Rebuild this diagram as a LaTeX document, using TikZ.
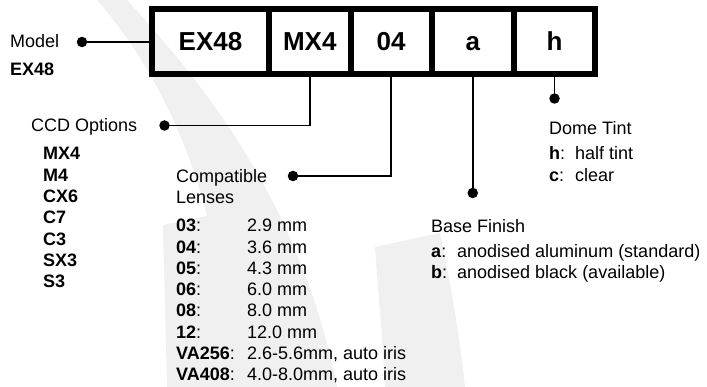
\documentclass[tikz,border=0pt]{standalone}
\usepackage{fontspec}
\setmainfont{Liberation Sans}
\begin{document}
\begin{tikzpicture}[x=1pt,y=-1pt,
  cell/.style={draw, line width=6pt, inner sep=0pt, outer sep=3pt, minimum height=65pt,
    text height=19pt, text depth=0pt,
    font=\fontsize{26}{30}\selectfont\bfseries},
  conn/.style={line width=1.6pt},
  dot/.style={circle, fill=black, inner sep=0pt, minimum size=10.5pt},
  txt/.style={anchor=base west, inner sep=0pt, font=\fontsize{18}{21}\selectfont},
  wm/.style={fill=black!6, draw=none}]
\useasboundingbox (0,0) rectangle (707,387);
% watermark
\fill[wm] (97,0) -- (127,0) .. controls (200,80) and (300,200) .. (337,387)
  -- (167,387) -- (163,225) -- (207,216) .. controls (188,140) and (150,60) .. (97,0) -- cycle;
\fill[wm] (375,247) -- (440,233) .. controls (452,290) and (460,340) .. (465,387)
  -- (385,387) .. controls (382,330) and (378,290) .. (375,247) -- cycle;
% code boxes
\node[cell, minimum width=117pt]  (c1) at (210.5,41.5)  {EX48};
\node[cell, minimum width=81.5pt] (c2) at (309.75,41.5) {MX4};
\node[cell, minimum width=81pt]   (c3) at (391,41.5)    {04};
\node[cell, minimum width=82.5pt] (c4) at (472.75,41.5) {a};
\node[cell, minimum width=81pt]   (c5) at (554.5,41.5)  {h};
% dots
\node[dot] (dm)    at (82,42)       {};
\node[dot] (dccd)  at (164.5,125.5) {};
\node[dot] (dlens) at (293,176)     {};
\node[dot] (dbase) at (472.75,193)  {};
\node[dot] (ddome) at (554.5,98.5)  {};
% connectors
\draw[conn] (dm) -- (dm -| c1.west);
\draw[conn] (dccd) -| (c2.south);
\draw[conn] (dlens) -| (c3.south);
\draw[conn] (dbase) -- (c4.south);
\draw[conn] (ddome) -- (c5.south);
% model
\node[txt] (tmodel) at (10,48) {Model};
\node[txt] (tmodelv) at (10,76) {\bfseries EX48};
% CCD
\node[txt] (tccd) at (31,132) {CCD Options};
\foreach \t [count=\i from 0] in {MX4,M4,CX6,C7,C3,SX3,S3}
  \node[txt] (ccd\i) at (43,160+21.3*\i) {\bfseries \t};
% lenses
\node[txt] (tlens1) at (176,183) {Compatible};
\node[txt] (tlens2) at (176,204) {Lenses};
\foreach \k/\v [count=\i from 0] in {03/2.9 mm,04/3.6 mm,05/4.3 mm,06/6.0 mm,08/8.0 mm,12/12.0 mm,VA256/{2.6-5.6mm, auto iris},VA408/{4.0-8.0mm, auto iris}}{
  \node[txt] (lk\i) at (176,232+21.2*\i) {\textbf{\k}:};
  \node[txt] (lv\i) at (247,232+21.2*\i) {\v};
}
% base finish
\node[txt] (tbase) at (431,233) {Base Finish};
\node[txt] (ba) at (431,257.5) {\textbf{a}:};
\node[txt] (bav) at (457,257.5) {anodised aluminum (standard)};
\node[txt] (bb) at (431,278.5) {\textbf{b}:};
\node[txt] (bbv) at (457,278.5) {anodised black (available)};
% dome tint
\node[txt] (tdome) at (549,135) {Dome Tint};
\node[txt] (dh) at (549,160) {\textbf{h}:};
\node[txt] (dhv) at (575,160) {half tint};
\node[txt] (dc) at (549,181.5) {\textbf{c}:};
\node[txt] (dcv) at (575,181.5) {clear};
\end{tikzpicture}
\end{document}
